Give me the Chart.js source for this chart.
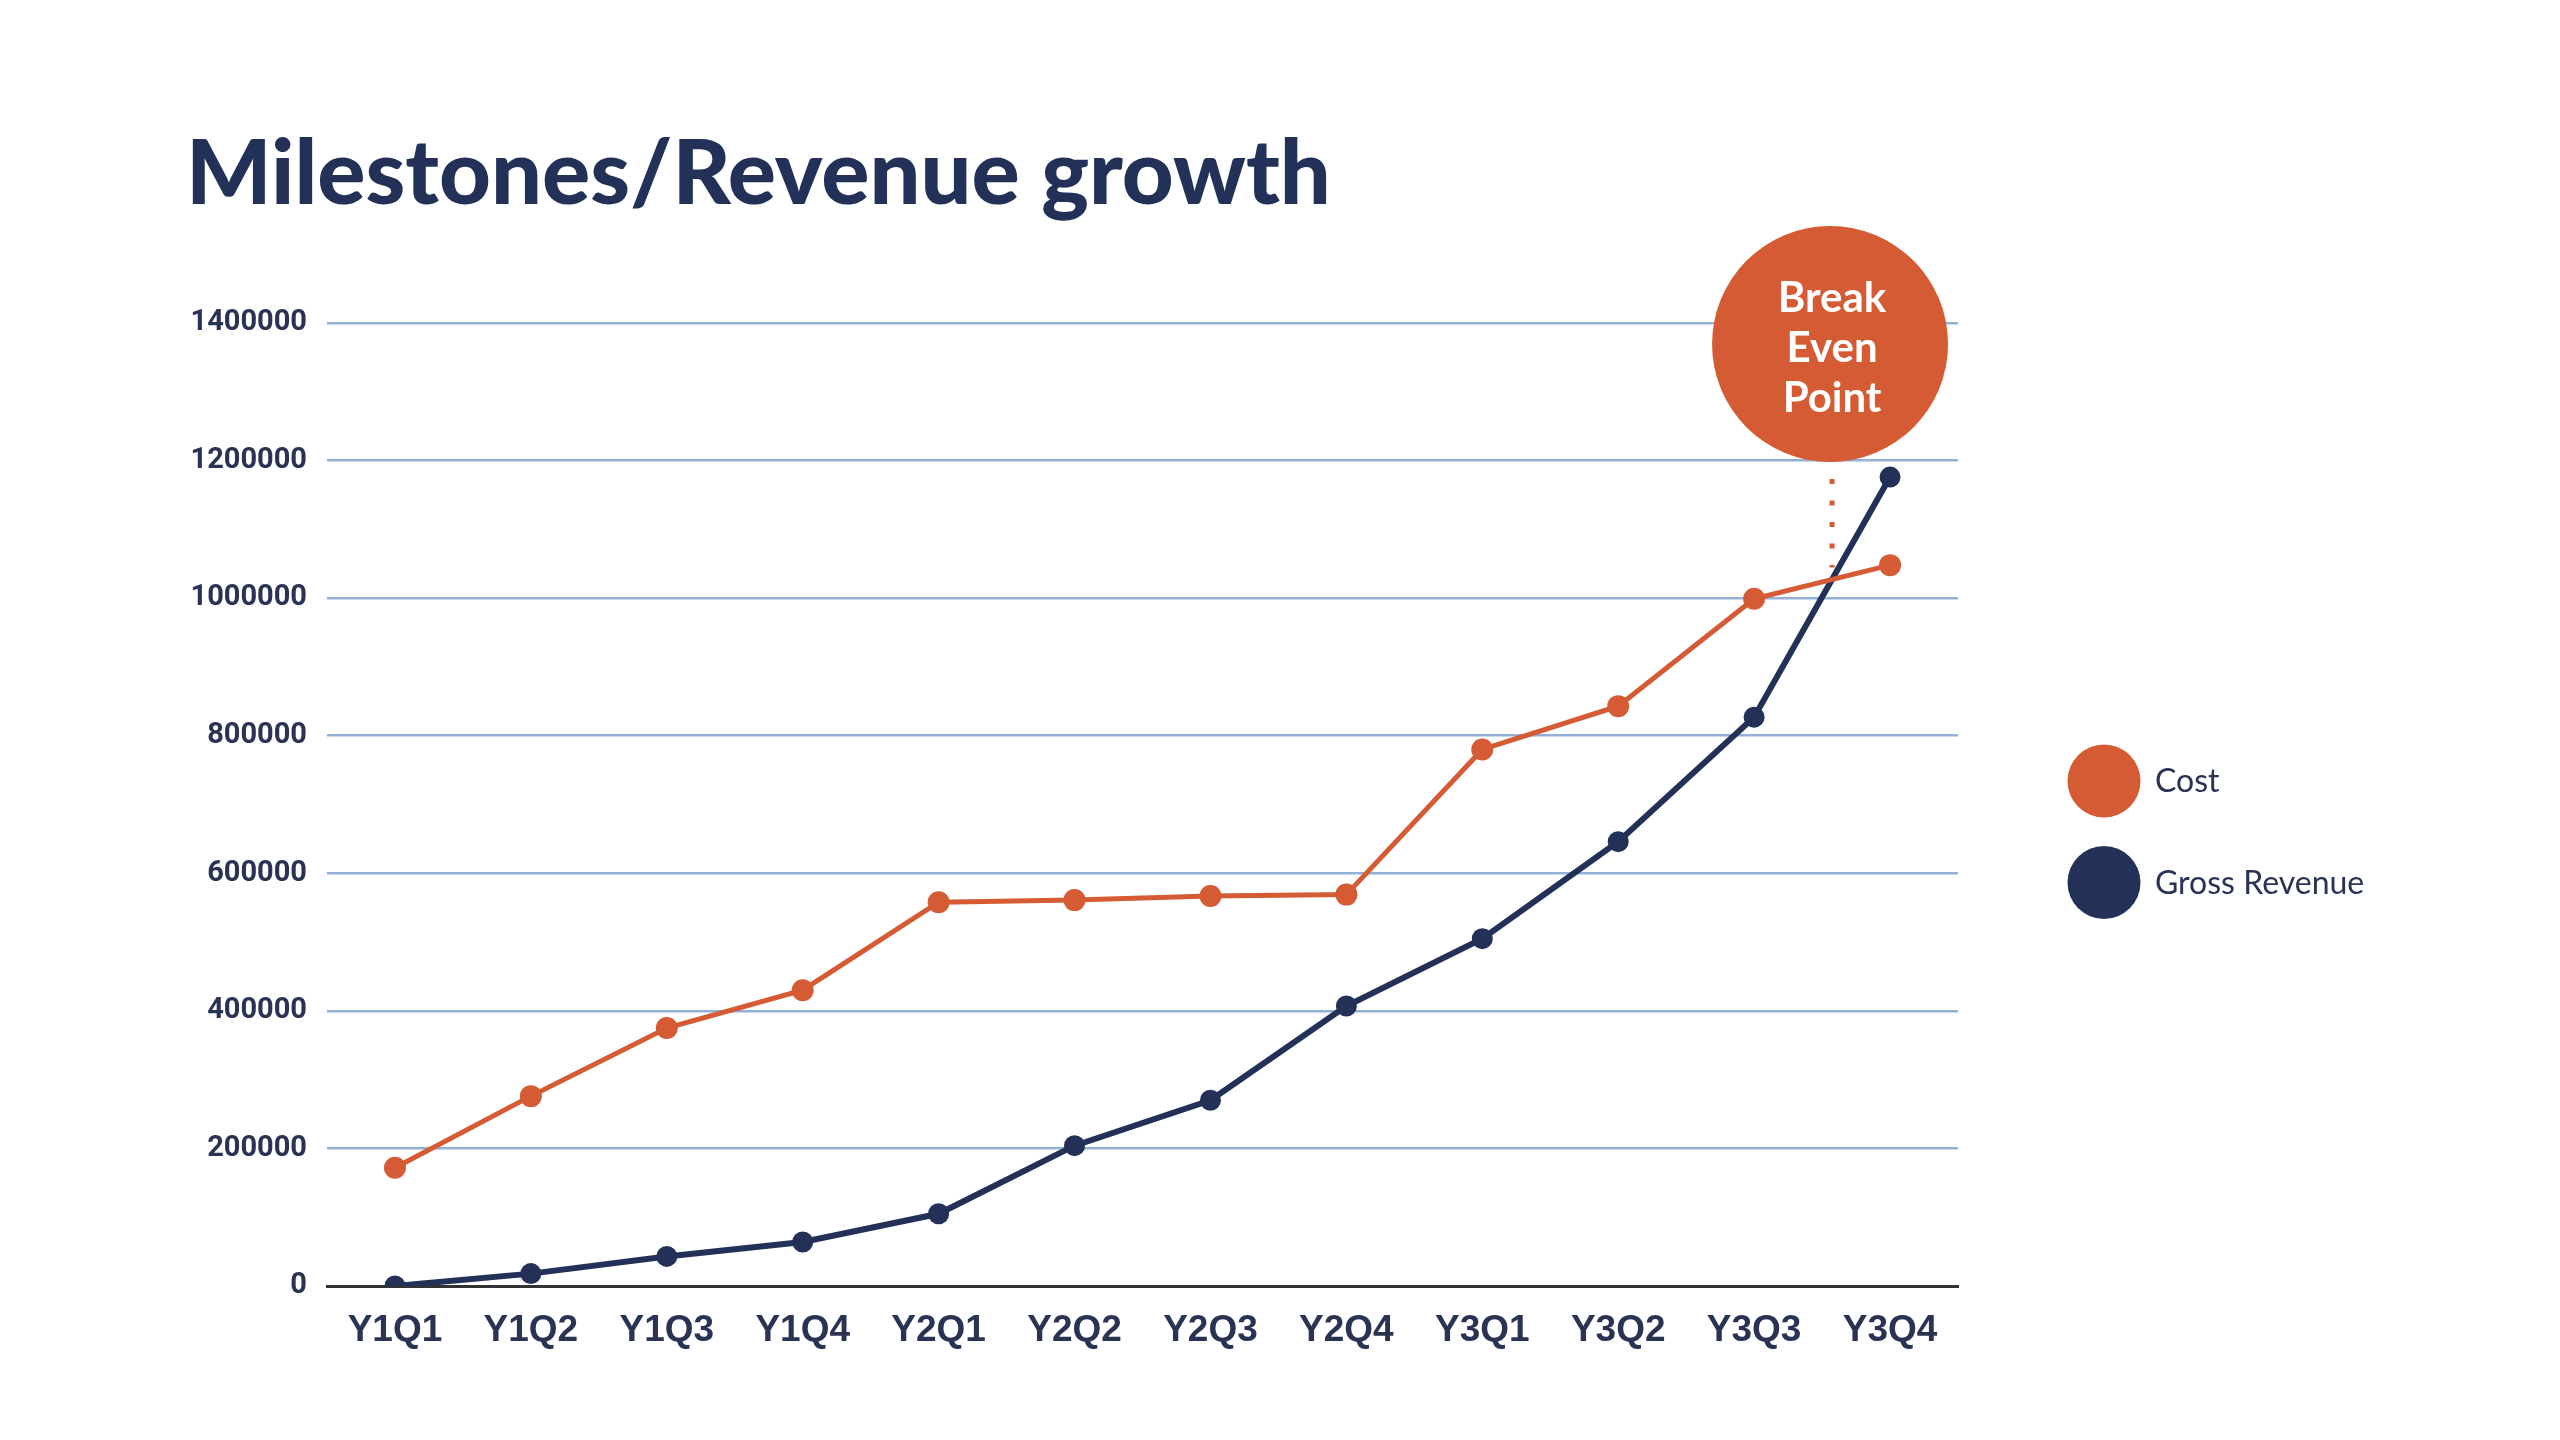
<!DOCTYPE html>
<html>
<head>
<meta charset="utf-8">
<script src="https://cdn.jsdelivr.net/npm/chart.js@4.4.1/dist/chart.umd.min.js"></script>
<style>
  html, body { margin: 0; padding: 0; background: #ffffff; }
  #wrap { position: relative; width: 2560px; height: 1440px; background: #ffffff; }
  #title {
    position: absolute; left: 186px; top: 124px; margin: 0;
    font-family: Lato, "Noto Sans", sans-serif; font-weight: 900; font-size: 90px;
    line-height: 1; color: #233159; letter-spacing: 0px; white-space: nowrap;
  }
  canvas { position: absolute; left: 0; top: 0; }
</style>
</head>
<body>
<div id="wrap">
  <h1 id="title">Milestones/Revenue growth</h1>
  <canvas id="c" width="2560" height="1440"></canvas>
</div>
<script>
// ---- data ----
const categories = ['Y1Q1','Y1Q2','Y1Q3','Y1Q4','Y2Q1','Y2Q2','Y2Q3','Y2Q4','Y3Q1','Y3Q2','Y3Q3','Y3Q4'];
const costValues = [172000, 276000, 375000, 430000, 558000, 561000, 567000, 569000, 780000, 843000, 999000, 1048000];
const revenueValues = [0, 18000, 43000, 64000, 105000, 204000, 270000, 407000, 505000, 646000, 827000, 1176000];
const seriesNames = ['Cost', 'Gross Revenue'];
const yTickValues = [0, 200000, 400000, 600000, 800000, 1000000, 1200000, 1400000];
const annotationLines = ['Break', 'Even', 'Point'];

const ORANGE = '#D45B33';
const NAVY = '#233159';
const TEXT = '#2B3354';

const breakEvenPlugin = {
  id: 'breakEven',
  afterDatasetsDraw(chart) {
    const a = chart.getDatasetMeta(0).data;
    const d0 = chart.data.datasets[0].data, d1 = chart.data.datasets[1].data;
    let ix = null, iy = null;
    for (let i = 0; i < d0.length - 1; i++) {
      const s0 = d1[i] - d0[i], s1 = d1[i + 1] - d0[i + 1];
      if (s0 <= 0 && s1 > 0) {
        const t = s0 / (s0 - s1);
        ix = a[i].x + t * (a[i + 1].x - a[i].x);
        iy = a[i].y + t * (a[i + 1].y - a[i].y);
        break;
      }
    }
    if (ix === null) return;
    const ctx = chart.ctx;
    const area = chart.chartArea;
    const cx = ix - 2, cy = area.top + 21, r = 118;
    ctx.save();
    ctx.strokeStyle = ORANGE;
    ctx.lineWidth = 5;
    ctx.setLineDash([5, 16.5]);
    ctx.beginPath();
    ctx.moveTo(ix, cy + r + 17);
    ctx.lineTo(ix, iy - 12);
    ctx.stroke();
    ctx.setLineDash([]);
    ctx.fillStyle = ORANGE;
    ctx.beginPath();
    ctx.arc(cx, cy, r, 0, Math.PI * 2);
    ctx.fill();
    ctx.fillStyle = '#ffffff';
    ctx.font = '700 42px Lato, "Noto Sans", sans-serif';
    ctx.textAlign = 'center';
    ctx.textBaseline = 'middle';
    annotationLines.forEach((t, k) => ctx.fillText(t, cx + 2, cy - 46 + k * 50));
    ctx.restore();
  }
};

const sideLegendPlugin = {
  id: 'sideLegend',
  afterDraw(chart) {
    const ctx = chart.ctx;
    const area = chart.chartArea;
    ctx.save();
    chart.data.datasets.forEach((ds, i) => {
      const x = area.right + 146;
      const y = area.top + 458 + i * 101.5;
      ctx.fillStyle = ds.backgroundColor;
      ctx.beginPath();
      ctx.arc(x, y, 36.5, 0, Math.PI * 2);
      ctx.fill();
      ctx.fillStyle = TEXT;
      ctx.font = '400 32px Lato, "Noto Sans", sans-serif';
      ctx.textAlign = 'left';
      ctx.textBaseline = 'middle';
      ctx.fillText(ds.label, x + 51, y + 1);
    });
    ctx.restore();
  }
};

new Chart(document.getElementById('c'), {
  type: 'line',
  data: {
    labels: categories,
    datasets: [
      {
        label: seriesNames[0], data: costValues,
        borderColor: ORANGE, backgroundColor: ORANGE,
        borderWidth: 5, pointRadius: 11, pointBorderWidth: 0,
        pointBackgroundColor: ORANGE, tension: 0
      },
      {
        label: seriesNames[1], data: revenueValues,
        borderColor: NAVY, backgroundColor: NAVY,
        borderWidth: 6, pointRadius: 10.5, pointBorderWidth: 0,
        pointBackgroundColor: NAVY, tension: 0
      }
    ]
  },
  options: {
    responsive: false,
    animation: false,
    devicePixelRatio: 1,
    layout: { padding: { left: 190, right: 602, top: 323, bottom: 74 } },
    plugins: {
      legend: { display: false },
      title: { display: false },
      tooltip: { enabled: false }
    },
    scales: {
      x: {
        offset: true,
        grid: { display: false, drawTicks: false },
        border: { display: true, color: '#333333', width: 3 },
        ticks: {
          color: TEXT, padding: 23,
          font: { family: '"Liberation Sans Narrow", "Arial Narrow", "Liberation Sans", sans-serif', weight: 'bold', size: 37 }
        },
        afterFit(scale) { scale.height = 80; }
      },
      y: {
        min: 0, max: 1400000,
        afterBuildTicks(scale) { scale.ticks = yTickValues.map(v => ({ value: v })); },
        grid: { color: '#93B1D8', lineWidth: 2.5, drawTicks: false },
        border: { display: false },
        ticks: {
          color: TEXT, padding: 20,
          font: { family: 'Roboto, "Liberation Sans", sans-serif', weight: 'bold', size: 29 },
          callback: (v) => String(v)
        },
        afterFit(scale) { scale.width = 137; }
      }
    }
  },
  plugins: [breakEvenPlugin, sideLegendPlugin]
});
</script>
</body>
</html>
